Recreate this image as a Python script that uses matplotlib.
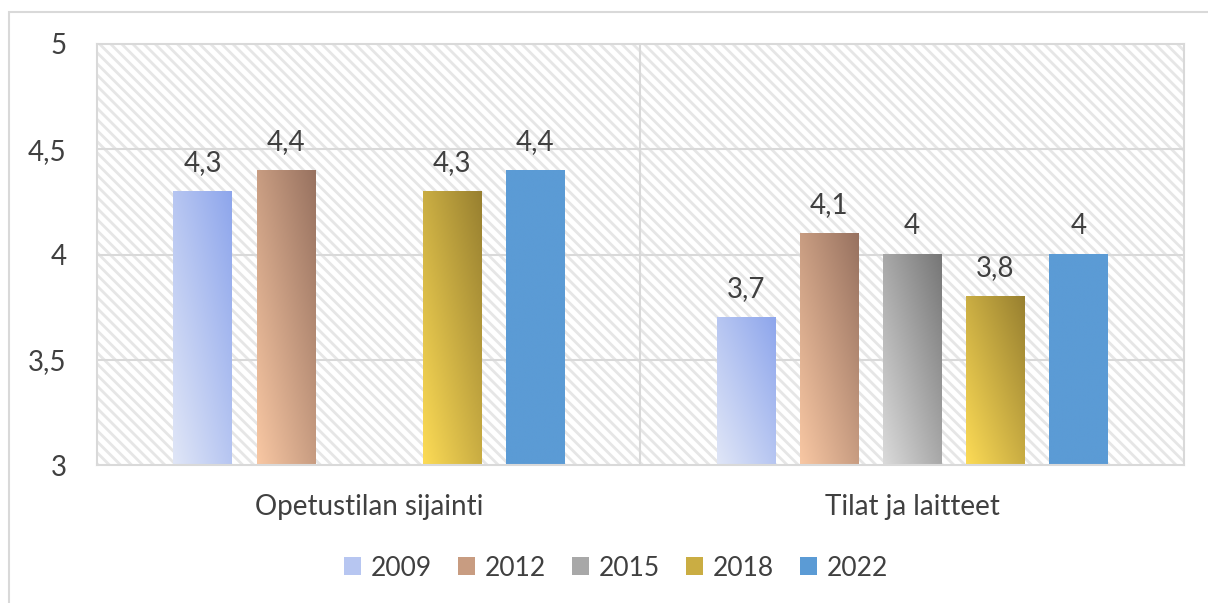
import numpy as np
import matplotlib.pyplot as plt
from matplotlib.colors import LinearSegmentedColormap
from matplotlib.patches import Rectangle, Patch

plt.rcParams["font.family"] = ["Lato", "DejaVu Sans"]
plt.rcParams["hatch.linewidth"] = 2.0

categories = ["Opetustilan sijainti", "Tilat ja laitteet"]
years = ["2009", "2012", "2015", "2018", "2022"]
values = {
    "2009": [4.3, 3.7],
    "2012": [4.4, 4.1],
    "2015": [None, 4.0],
    "2018": [4.3, 3.8],
    "2022": [4.4, 4.0],
}
labels = {
    "2009": ["4,3", "3,7"],
    "2012": ["4,4", "4,1"],
    "2015": ["", "4"],
    "2018": ["4,3", "3,8"],
    "2022": ["4,4", "4"],
}
yticks = [3, 3.5, 4, 4.5, 5]
ytick_labels = ["3", "3,5", "4", "4,5", "5"]

# light -> dark gradient colours per series
grad = {
    "2009": ("#e0e6f7", "#8ea6ec"),
    "2012": ("#f8c7a3", "#987260"),
    "2015": ("#dadada", "#777777"),
    "2018": ("#fcdb56", "#988030"),
    "2022": ("#5b9bd5", "#5b9bd5"),
}

text_col = "#404040"
grid_col = "#d9d9d9"
fs = 20

fig = plt.figure(figsize=(12.08, 6.03), dpi=100)
fig.patches.append(Rectangle((9 / 1208, -0.1), 1.2, 1 - 12 / 603 + 0.1,
                             transform=fig.transFigure, fill=False,
                             edgecolor=grid_col, lw=1.5))
ax = fig.add_axes([97 / 1208, 1 - 465 / 603, (1184 - 97) / 1208, (465 - 44) / 603])

# hatched plot area background
ax.add_patch(Rectangle((0, 0), 1, 1, transform=ax.transAxes, facecolor="white",
                       edgecolor="#e6e6e6", lw=0, hatch="\\\\\\", zorder=0))

for y in yticks[1:-1]:
    ax.axhline(y, color=grid_col, lw=1.5, zorder=1)
ax.axvline(0.5, color=grid_col, lw=1.5, zorder=1)

step = 0.153
width = 0.107
n = len(years)
xx, yy = np.meshgrid(np.linspace(0, 1, 50), np.linspace(0, 1, 100))
t = (xx + yy) / 2

for i, yr in enumerate(years):
    cmap = LinearSegmentedColormap.from_list(yr, grad[yr])
    for j, v in enumerate(values[yr]):
        if v is None:
            continue
        x0 = j + (i - (n - 1) / 2) * step - width / 2
        ax.imshow(t, extent=(x0, x0 + width, 3, v), origin="lower", cmap=cmap,
                  vmin=0, vmax=1, aspect="auto", zorder=2, interpolation="bilinear")
        ax.annotate(labels[yr][j], (x0 + width / 2, v), xytext=(0, 11),
                    textcoords="offset points", ha="center", va="bottom",
                    fontsize=fs, color=text_col)

ax.set_xlim(-0.5, 1.5)
ax.set_ylim(3, 5)
ax.set_xticks([0, 1])
ax.set_xticklabels(categories, fontsize=fs, color=text_col)
ax.set_yticks(yticks)
ax.set_yticklabels(ytick_labels, fontsize=fs, color=text_col)
ax.tick_params(axis="both", length=0)
ax.tick_params(axis="x", pad=21)
ax.tick_params(axis="y", pad=22)
for s in ax.spines.values():
    s.set_color(grid_col)
    s.set_linewidth(1.5)


def mid(c1, c2):
    return "#" + "".join("%02x" % ((int(c1[k:k + 2], 16) + int(c2[k:k + 2], 16)) // 2)
                         for k in (1, 3, 5))


handles = [Patch(facecolor=mid(*grad[yr]), label=yr) for yr in years]
fig.legend(handles=handles, loc="center", bbox_to_anchor=(616 / 1208, 1 - 568 / 603),
           ncol=5, frameon=False, fontsize=19, labelcolor=text_col,
           handlelength=0.65, handleheight=0.65, handletextpad=0.35, columnspacing=1.0)

fig.savefig("out.png", dpi=100)
